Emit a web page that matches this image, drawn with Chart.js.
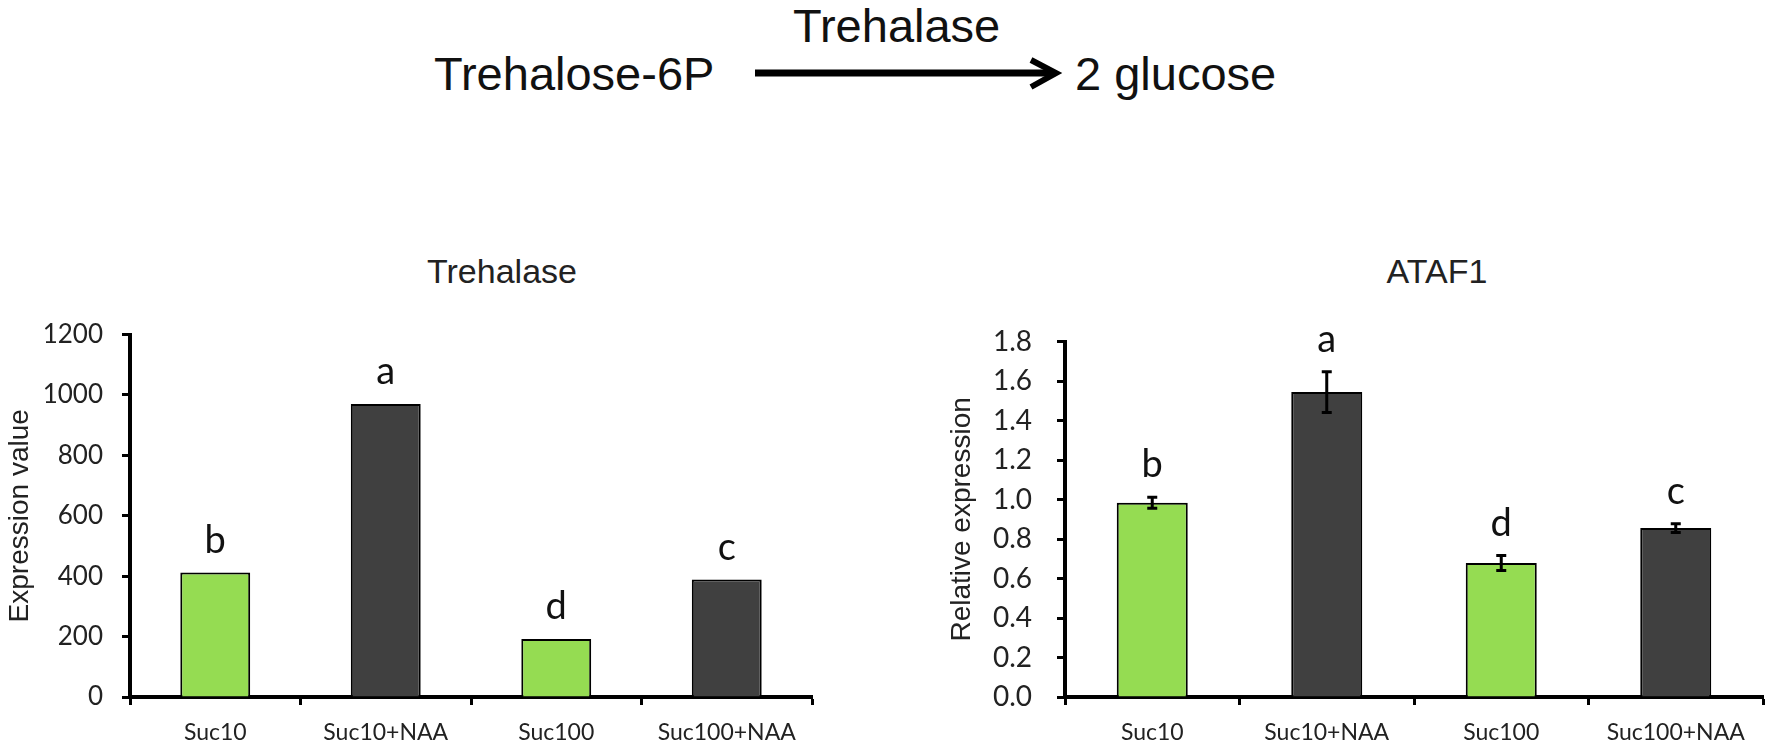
<!DOCTYPE html>
<html>
<head>
<meta charset="utf-8">
<script src="https://cdn.jsdelivr.net/npm/chart.js"></script>
<style>
  html, body { margin: 0; padding: 0; background: #fff; }
  body { width: 1773px; height: 748px; position: relative; overflow: hidden; }
  .txt { position: absolute; font-family: "Liberation Sans", Arial, sans-serif; color: #111; line-height: 1; white-space: nowrap; }
  .title { font-size: 34px; transform: translateX(-50%); color: #222; }
  canvas { position: absolute; }
</style>
</head>
<body>
<div class="txt" style="left:434px; top:50px; font-size:47px;">Trehalose-6P</div>
<div class="txt" style="left:793px; top:2px; font-size:47px;">Trehalase</div>
<div class="txt" style="left:1075px; top:50px; font-size:47px;">2 glucose</div>
<svg style="position:absolute; left:0; top:0;" width="1773" height="120">
  <line x1="755" y1="73" x2="1054" y2="73" stroke="#000" stroke-width="7"/>
  <polyline points="1031,60 1056,73 1031,87" fill="none" stroke="#000" stroke-width="6"/>
</svg>

<div class="txt title" style="left:502px; top:254px;">Trehalase</div>
<div class="txt title" style="left:1437px; top:254px;">ATAF1</div>

<canvas id="trehalaseChart" width="830" height="448" style="left:0; top:300px;"></canvas>
<canvas id="ataf1Chart" width="943" height="448" style="left:830px; top:300px;"></canvas>

<script>
const groups = ['Suc10', 'Suc10+NAA', 'Suc100', 'Suc100+NAA'];
const barColors = ['#95DC52', '#404040', '#95DC52', '#404040'];

const trehalaseValues = [412, 970, 192, 389];
const trehalaseLetters = ['b', 'a', 'd', 'c'];
const trehalaseTicks = [0, 200, 400, 600, 800, 1000, 1200];

const ataf1Values = [0.984, 1.545, 0.679, 0.856];
const ataf1Errors = [0.028, 0.103, 0.038, 0.022];
const ataf1Letters = ['b', 'a', 'd', 'c'];
const ataf1Ticks = [0, 0.2, 0.4, 0.6, 0.8, 1.0, 1.2, 1.4, 1.6, 1.8];

const labelFont = 'Lato, "Liberation Sans", sans-serif';
const titleFont = '"Liberation Sans", Arial, sans-serif';

// error bars + significance letters, drawn from the data through the scales
const marksPlugin = {
    id: 'marks',
    afterDatasetsDraw(chart, args, opts) {
        const ctx = chart.ctx;
        const xs = chart.scales.x, ys = chart.scales.y;
        const vals = chart.data.datasets[0].data;
        ctx.save();
        vals.forEach((v, i) => {
            const x = xs.getPixelForValue(i);
            const e = opts.errors ? opts.errors[i] : 0;
            if (opts.errors) {
                const yt = ys.getPixelForValue(v + e), yb = ys.getPixelForValue(v - e);
                ctx.strokeStyle = '#000';
                ctx.lineWidth = 3;
                ctx.beginPath();
                ctx.moveTo(x, yt); ctx.lineTo(x, yb);
                ctx.moveTo(x - 5, yt); ctx.lineTo(x + 5, yt);
                ctx.moveTo(x - 5, yb); ctx.lineTo(x + 5, yb);
                ctx.stroke();
            }
            ctx.fillStyle = '#111';
            ctx.font = '38px ' + labelFont;
            ctx.textAlign = 'center';
            ctx.textBaseline = 'alphabetic';
            ctx.fillText(opts.letters[i], x, ys.getPixelForValue(v + e) - 20);
        });
        ctx.restore();
    }
};

function makeChart(id, values, opts) {
    return new Chart(document.getElementById(id), {
        type: 'bar',
        data: {
            labels: groups,
            datasets: [{
                data: values,
                backgroundColor: barColors,
                borderColor: '#000',
                borderWidth: 2,
                categoryPercentage: 1,
                barPercentage: opts.barPct
            }]
        },
        options: {
            responsive: false,
            animation: false,
            layout: { padding: opts.padding },
            plugins: {
                legend: { display: false },
                tooltip: { enabled: false },
                marks: { letters: opts.letters, errors: opts.errors }
            },
            scales: {
                x: {
                    grid: { display: true, drawOnChartArea: false, drawTicks: true, tickLength: 8, tickWidth: 3, tickColor: '#000', offset: true },
                    border: { color: '#000', width: 4 },
                    ticks: { color: '#222', font: { family: labelFont, size: 23 }, padding: 14, maxRotation: 0 },
                    afterFit: s => { s.height = 51; }
                },
                y: {
                    min: 0,
                    max: opts.ticks[opts.ticks.length - 1],
                    afterBuildTicks: s => { s.ticks = opts.ticks.map(v => ({ value: v })); },
                    grid: { display: true, drawOnChartArea: false, drawTicks: true, tickLength: 8, tickWidth: 3, tickColor: '#000' },
                    border: { color: '#000', width: 4 },
                    ticks: { color: '#222', font: { family: labelFont, size: opts.tickSize }, padding: opts.tickPad, callback: opts.fmt },
                    title: { display: true, text: opts.yTitle, color: '#222', font: { family: titleFont, size: 28 }, padding: { top: 3, bottom: 0 } },
                    afterFit: s => { s.width = opts.yWidth; }
                }
            }
        },
        plugins: [marksPlugin]
    });
}

makeChart('trehalaseChart', trehalaseValues, {
    letters: trehalaseLetters, errors: null, ticks: trehalaseTicks,
    yTitle: 'Expression value', fmt: v => String(v),
    padding: { left: 0, top: 33, right: 18, bottom: 0 },
    yWidth: 130, tickSize: 26, tickPad: 19, barPct: 0.41
});

makeChart('ataf1Chart', ataf1Values, {
    letters: ataf1Letters, errors: ataf1Errors, ticks: ataf1Ticks,
    yTitle: 'Relative expression', fmt: v => v.toFixed(1),
    padding: { left: 112, top: 30, right: 10, bottom: 0 },
    yWidth: 123, tickSize: 28, tickPad: 25, barPct: 0.407
});
</script>
</body>
</html>
